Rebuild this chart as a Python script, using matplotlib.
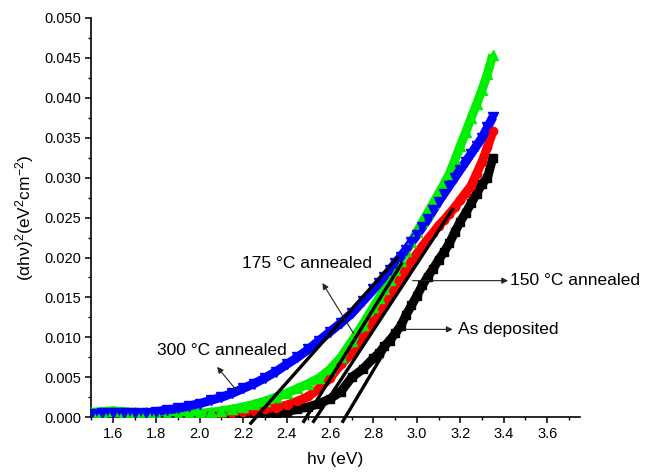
import matplotlib
matplotlib.use("Agg")
import matplotlib.pyplot as plt
from matplotlib.ticker import MultipleLocator, FormatStrFormatter

plt.rcParams['font.family'] = ['Liberation Sans', 'DejaVu Sans']
plt.rcParams['mathtext.fontset'] = 'custom'
plt.rcParams['mathtext.rm'] = 'Liberation Sans'
plt.rcParams['mathtext.it'] = 'Liberation Sans:italic'

# ---------------- data ----------------
x_lo = [1.50, 1.55, 1.60, 1.65, 1.70, 1.75, 1.80, 1.85, 1.90, 1.95, 2.00, 2.05,
        2.10, 2.15, 2.20, 2.25, 2.30, 2.35, 2.40, 2.45, 2.50, 2.55, 2.60, 2.65,
        2.70, 2.75, 2.80]
x_hi = [2.825, 2.85, 2.875, 2.90, 2.925, 2.95, 2.975, 3.00, 3.025, 3.05, 3.075,
        3.10, 3.125, 3.15, 3.175, 3.20, 3.225, 3.25, 3.275, 3.30, 3.325, 3.35]

# 300 °C annealed (blue)
y300_lo = [0.0004, 0.0005, 0.0005, 0.0005, 0.0005, 0.0005, 0.0007, 0.0009, 0.0011,
           0.0014, 0.0017, 0.0021, 0.0025, 0.0030, 0.0036, 0.0042, 0.0049, 0.0057,
           0.0066, 0.0075, 0.0085, 0.0096, 0.0107, 0.0118, 0.0130, 0.0145, 0.0160]
y300_hi = [0.0168, 0.0176, 0.0184, 0.0193, 0.0201, 0.0210, 0.0219, 0.0228, 0.0238,
           0.0248, 0.0259, 0.0270, 0.0280, 0.0290, 0.0300, 0.0310, 0.0320, 0.0330,
           0.0340, 0.0350, 0.0363, 0.0376]

# 175 °C annealed (green)
y175_lo = [0.0006, 0.0007, 0.0008, 0.0007, 0.0006, 0.0006, 0.0004, 0.0003, 0.0003,
           0.0004, 0.0005, 0.0006, 0.0008, 0.0010, 0.0013, 0.0016, 0.0020, 0.0025,
           0.0030, 0.0036, 0.0042, 0.0049, 0.0060, 0.0075, 0.0095, 0.0116, 0.0138]
y175_hi = [0.0149, 0.0160, 0.0172, 0.0184, 0.0196, 0.0208, 0.0220, 0.0232, 0.0244,
           0.0256, 0.0268, 0.0280, 0.0292, 0.0305, 0.0322, 0.0340, 0.0357, 0.0375,
           0.0392, 0.0410, 0.0430, 0.0454]

# 150 °C annealed (red) - starts at 2.05
x150_lo = [2.05, 2.10, 2.15, 2.20, 2.25, 2.30, 2.35, 2.40, 2.45, 2.50, 2.55, 2.60,
           2.65, 2.70, 2.75, 2.80]
y150_lo = [0.0003, 0.0004, 0.0005, 0.0006, 0.0008, 0.0010, 0.0012, 0.0015, 0.0020,
           0.0026, 0.0036, 0.0049, 0.0066, 0.0080, 0.0100, 0.0120]
y150_hi = [0.0130, 0.0140, 0.0152, 0.0164, 0.0175, 0.0185, 0.0195, 0.0205, 0.0214,
           0.0223, 0.0231, 0.0240, 0.0247, 0.0255, 0.0263, 0.0272, 0.0281, 0.0290,
           0.0305, 0.0320, 0.0338, 0.0358]

# As deposited (black) - starts at 2.05
xdep_lo = [2.05, 2.10, 2.15, 2.20, 2.25, 2.30, 2.35, 2.40, 2.45, 2.50, 2.55, 2.60,
           2.65, 2.70, 2.75, 2.80]
ydep_lo = [0.0001, 0.0001, 0.0001, 0.0002, 0.0003, 0.0004, 0.0005, 0.0007, 0.0010,
           0.0013, 0.0017, 0.0023, 0.0032, 0.0050, 0.0060, 0.0074]
ydep_hi = [0.0080, 0.0089, 0.0096, 0.0105, 0.0114, 0.0128, 0.0140, 0.0152, 0.0165,
           0.0176, 0.0186, 0.0197, 0.0207, 0.0218, 0.0232, 0.0245, 0.0256, 0.0268,
           0.0280, 0.0292, 0.0300, 0.0325]

# Tangent (linear fit) lines: (x0, y0, x1, y1)
tan_300 = [2.23, -0.0009, 2.915, 0.0201]
tan_175 = [2.475, -0.0007, 2.933, 0.0194]
tan_150 = [2.52, -0.0007, 3.168, 0.0262]
tan_dep = [2.655, -0.0007, 3.00, 0.0150]

# Annotations: label, text position, arrow tail, arrow tip
labels = ["175 °C annealed", "300 °C annealed", "150 °C annealed", "As deposited"]
text_pos = [(2.196, 0.0193), (1.804, 0.0084), (3.43, 0.0171), (3.19, 0.0110)]
arrow_tail = [(2.708, 0.0105), (2.177, 0.0031), (2.98, 0.0171), (2.94, 0.0110)]
arrow_tip = [(2.565, 0.0168), (2.080, 0.0063), (3.42, 0.0171), (3.165, 0.0110)]

# ---------------- figure ----------------
fig = plt.figure(figsize=(6.47, 4.73), dpi=100)
ax = fig.add_axes([0.141, 0.118, 0.755, 0.844])

series = [
    (xdep_lo + x_hi, ydep_lo + ydep_hi, 'black', 's', 5.5),
    (x150_lo + x_hi, y150_lo + y150_hi, 'red', 'o', 6.0),
    (x_lo + x_hi, y175_lo + y175_hi, '#00ee00', '^', 7.0),
    (x_lo + x_hi, y300_lo + y300_hi, '#0000ff', 'v', 7.0),
]
for xs, ys, c, m, ms in series:
    ax.plot(xs, ys, color=c, lw=6.5, solid_capstyle='butt', zorder=2)
    ax.plot(xs, ys, color=c, lw=0, marker=m, ms=ms, mec=c, mfc=c, zorder=3)

for t in (tan_300, tan_175, tan_150, tan_dep):
    ax.plot([t[0], t[2]], [t[1], t[3]], color='black', lw=2.4,
            clip_on=False, zorder=5, solid_capstyle='butt')

for lab, tp, tl, tip in zip(labels, text_pos, arrow_tail, arrow_tip):
    ax.annotate('', xy=tip, xytext=tl,
                arrowprops=dict(arrowstyle='-|>', color='#222222', lw=0.8,
                                mutation_scale=9, shrinkA=0, shrinkB=0),
                zorder=6)
    ax.text(tp[0], tp[1], lab, fontsize=12.5, ha='left', va='center', zorder=6)

ax.set_xlim(1.5, 3.75)
ax.set_ylim(0, 0.05)
ax.xaxis.set_major_locator(MultipleLocator(0.2))
ax.xaxis.set_minor_locator(MultipleLocator(0.1))
ax.yaxis.set_major_locator(MultipleLocator(0.005))
ax.yaxis.set_minor_locator(MultipleLocator(0.0025))
ax.xaxis.set_major_formatter(FormatStrFormatter('%.1f'))
ax.yaxis.set_major_formatter(FormatStrFormatter('%.3f'))

for s in ('top', 'right'):
    ax.spines[s].set_visible(False)
for s in ('left', 'bottom'):
    ax.spines[s].set_linewidth(1.2)
ax.tick_params(which='major', direction='out', length=4, width=1.1,
               labelsize=10.5, pad=3)
ax.tick_params(which='minor', direction='out', length=2.5, width=1.0)

ax.set_xlabel('hν (eV)', fontsize=12.5, labelpad=8)
ax.set_ylabel('(αhν)$^{2}$(eV$^{2}$cm$^{-2}$)', fontsize=12.5, labelpad=6)

fig.savefig('out.png', dpi=100)
